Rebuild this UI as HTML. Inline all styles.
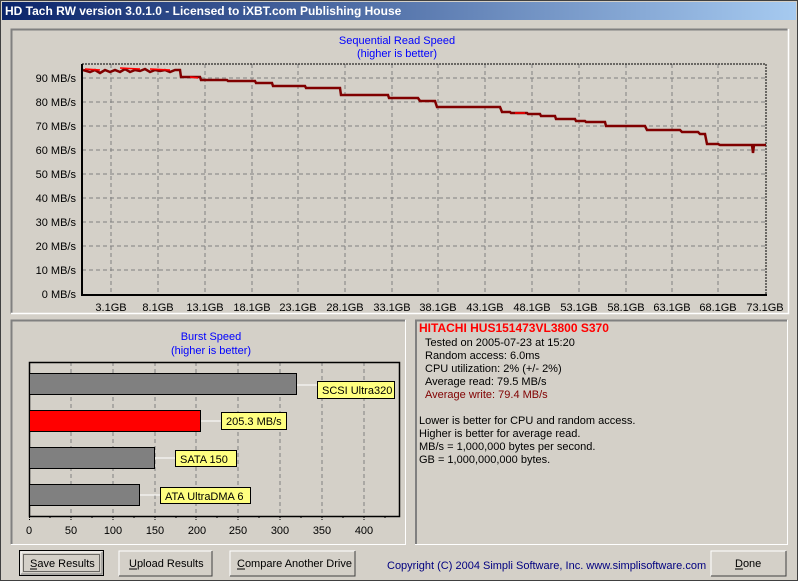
<!DOCTYPE html>
<html><head><meta charset="utf-8"><style>
body{margin:0;width:798px;height:581px;overflow:hidden;background:#d4d0c8;font-family:"Liberation Sans",sans-serif}
svg{display:block}
text{font-family:"Liberation Sans",sans-serif;font-size:11px}
</style></head><body>
<svg width="798" height="581" viewBox="0 0 798 581">
<defs><linearGradient id="tb" x1="0" x2="1"><stop offset="0" stop-color="#0a246a"/><stop offset="1" stop-color="#a6caf0"/></linearGradient></defs>
<rect width="798" height="581" fill="#d4d0c8"/>
<rect x="0.5" y="0.5" width="797" height="580" fill="none" stroke="#404040" stroke-width="1"/>
<rect x="2" y="2" width="794" height="18" fill="url(#tb)"/>
<text x="5" y="15" fill="#fff" font-weight="bold" style="font-size:12px">HD Tach RW version 3.0.1.0 - Licensed to iXBT.com Publishing House</text>
<!-- top panel -->
<path d="M11.5 313.5V29.5H787.5" fill="none" stroke="#808080" stroke-width="2"/>
<path d="M11 313.5H788.5V29" fill="none" stroke="#fff" stroke-width="1.5"/>
<text x="397" y="44" fill="#0000ff" text-anchor="middle">Sequential Read Speed</text>
<text x="397" y="57" fill="#0000ff" text-anchor="middle">(higher is better)</text>
<g stroke="#808080" stroke-dasharray="4,3" stroke-width="1">
<path d="M82 270H766M82 246H766M82 222H766M82 198H766M82 174H766M82 150H766M82 126H766M82 102H766M82 78H766"/>
<path d="M111 64V294M158 64V294M205 64V294M252 64V294M298 64V294M345 64V294M392 64V294M438 64V294M485 64V294M532 64V294M579 64V294M626 64V294M672 64V294M718 64V294"/>
</g>
<path d="M82 64H766V294" fill="none" stroke="#000" stroke-width="1" stroke-dasharray="2,1"/>
<path d="M82 64V295H767" fill="none" stroke="#000" stroke-width="2"/>
<g text-anchor="end" style="font-size:10.5px">
<text x="76" y="298">0 MB/s</text><text x="76" y="274">10 MB/s</text><text x="76" y="250">20 MB/s</text><text x="76" y="226">30 MB/s</text><text x="76" y="202">40 MB/s</text><text x="76" y="178">50 MB/s</text><text x="76" y="154">60 MB/s</text><text x="76" y="130">70 MB/s</text><text x="76" y="106">80 MB/s</text><text x="76" y="82">90 MB/s</text>
</g>
<g text-anchor="middle" style="font-size:10.5px">
<text x="111" y="311">3.1GB</text><text x="158" y="311">8.1GB</text><text x="205" y="311">13.1GB</text><text x="252" y="311">18.1GB</text><text x="298" y="311">23.1GB</text><text x="345" y="311">28.1GB</text><text x="392" y="311">33.1GB</text><text x="438" y="311">38.1GB</text><text x="485" y="311">43.1GB</text><text x="532" y="311">48.1GB</text><text x="579" y="311">53.1GB</text><text x="626" y="311">58.1GB</text><text x="672" y="311">63.1GB</text><text x="718" y="311">68.1GB</text><text x="765" y="311">73.1GB</text>
</g>
<path d="M83 70L90 72L95 70L100 73L105 70L110 72L115 70L120 72L125 69L130 72L135 70L140 71L145 69L150 72L155 70L160 71L165 70L170 72L175 70L180 70L181 77L200 77L201 80L227 80L228 81L255 81L256 83L272 83L273 86L305 86L306 88L340 88L341 95L388 95L389 98L418 98L420 101L435 101L437 107L500 107L502 112L510 112L511 113L527 113L528 114L540 114L541 116L555 116L556 119L575 119L576 121L585 121L586 122L605 122L606 126L645 126L647 130L680 130L682 132L698 132L700 134L705 134L707 144L718 144L720 145L752 145L753 153L754 145L766 145" fill="none" stroke="#800000" stroke-width="2.5"/>
<path d="M85 69L100 70M120 68L140 69M150 69L170 70M190 77L198 78M515 113L525 113" stroke="#ff0000" stroke-width="1.5"/>
<!-- bottom-left panel -->
<path d="M11.5 544V320.5H405" fill="none" stroke="#808080" stroke-width="2"/>
<path d="M11 544.5H405.5V320" fill="none" stroke="#fff" stroke-width="1"/>
<text x="211" y="340" fill="#0000ff" text-anchor="middle">Burst Speed</text>
<text x="211" y="354" fill="#0000ff" text-anchor="middle">(higher is better)</text>
<g stroke="#808080" stroke-dasharray="4,3">
<path d="M71 362V516M113 362V516M155 362V516M196 362V516M238 362V516M280 362V516M322 362V516M364 362V516"/>
</g>
<path d="M29.5 362.5H399.5V516.5H29.5Z" fill="none" stroke="#000" stroke-width="1.5"/>
<rect x="29.5" y="373.5" width="267" height="21" fill="#808080" stroke="#000"/>
<rect x="29.5" y="410.5" width="171" height="21" fill="#ff0000" stroke="#000"/>
<rect x="29.5" y="447.5" width="125" height="21" fill="#808080" stroke="#000"/>
<rect x="29.5" y="484.5" width="110" height="21" fill="#808080" stroke="#000"/>
<g stroke="#fff"><path d="M297 385H317M201 421H221M155 458H175M140 495H160"/></g>
<g fill="#ffff80" stroke="#000">
<rect x="317.5" y="381.5" width="77" height="17"/><rect x="221.5" y="412.5" width="65" height="17"/><rect x="175.5" y="450.5" width="61" height="16"/><rect x="160.5" y="487.5" width="90" height="16"/>
</g>
<g style="font-size:10.5px"><text x="322" y="394">SCSI Ultra320</text><text x="226" y="425">205.3 MB/s</text><text x="180" y="463">SATA 150</text><text x="165" y="500">ATA UltraDMA 6</text></g>
<path d="M29.5 517V520M71 517V520M113 517V520M155 517V520M196 517V520M238 517V520M280 517V520M322 517V520M364 517V520M50 517V519M92 517V519M134 517V519M176 517V519M217 517V519M259 517V519M301 517V519M343 517V519M385 517V519" stroke="#000" stroke-dasharray="1,1"/>
<g text-anchor="middle"><text x="29" y="534">0</text><text x="71" y="534">50</text><text x="113" y="534">100</text><text x="155" y="534">150</text><text x="197" y="534">200</text><text x="238" y="534">250</text><text x="280" y="534">300</text><text x="322" y="534">350</text><text x="364" y="534">400</text></g>
<!-- right panel -->
<path d="M416 544V320.5H787" fill="none" stroke="#808080" stroke-width="2"/>
<path d="M415 544.5H787.5V320" fill="none" stroke="#fff" stroke-width="1"/>
<text x="419" y="332" fill="#ff0000" font-weight="bold" style="font-size:12px">HITACHI HUS151473VL3800 S370</text>
<text x="425" y="346">Tested on 2005-07-23 at 15:20</text>
<text x="425" y="359">Random access: 6.0ms</text>
<text x="425" y="372">CPU utilization: 2% (+/- 2%)</text>
<text x="425" y="385">Average read: 79.5 MB/s</text>
<text x="425" y="398" fill="#800000">Average write: 79.4 MB/s</text>
<text x="419" y="424">Lower is better for CPU and random access.</text>
<text x="419" y="437">Higher is better for average read.</text>
<text x="419" y="450">MB/s = 1,000,000 bytes per second.</text>
<text x="419" y="463">GB = 1,000,000,000 bytes.</text>
<!-- buttons -->
<g fill="#d4d0c8">
<rect x="19.5" y="550.5" width="84" height="25" stroke="#000"/>
<path d="M21 574V552H102" fill="none" stroke="#fff"/><path d="M21 574H102V552" fill="none" stroke="#808080"/>
<rect x="23.5" y="554.5" width="76" height="17" fill="none" stroke="#000" stroke-dasharray="1,1"/>
<path d="M119 576V551H212" fill="none" stroke="#fff"/><path d="M119 576H212V551" fill="none" stroke="#404040"/>
<path d="M230 576V551H355" fill="none" stroke="#fff"/><path d="M230 576H355V551" fill="none" stroke="#404040"/>
<path d="M711 576V551H786" fill="none" stroke="#fff"/><path d="M711 576H786V551" fill="none" stroke="#404040"/>
</g>
<g style="font-size:11.5px">
<text x="30" y="567">Save Results</text><path d="M30 569H37" stroke="#000"/>
<text x="129" y="567">Upload Results</text><path d="M129 569H137" stroke="#000"/>
<text x="237" y="567">Compare Another Drive</text><path d="M237 569H245" stroke="#000"/>
<text x="735" y="567">Done</text><path d="M735 569H743" stroke="#000"/>
</g>
<text x="387" y="569" fill="#000080" style="font-size:11px">Copyright (C) 2004 Simpli Software, Inc. www.simplisoftware.com</text>
</svg>
</body></html>
